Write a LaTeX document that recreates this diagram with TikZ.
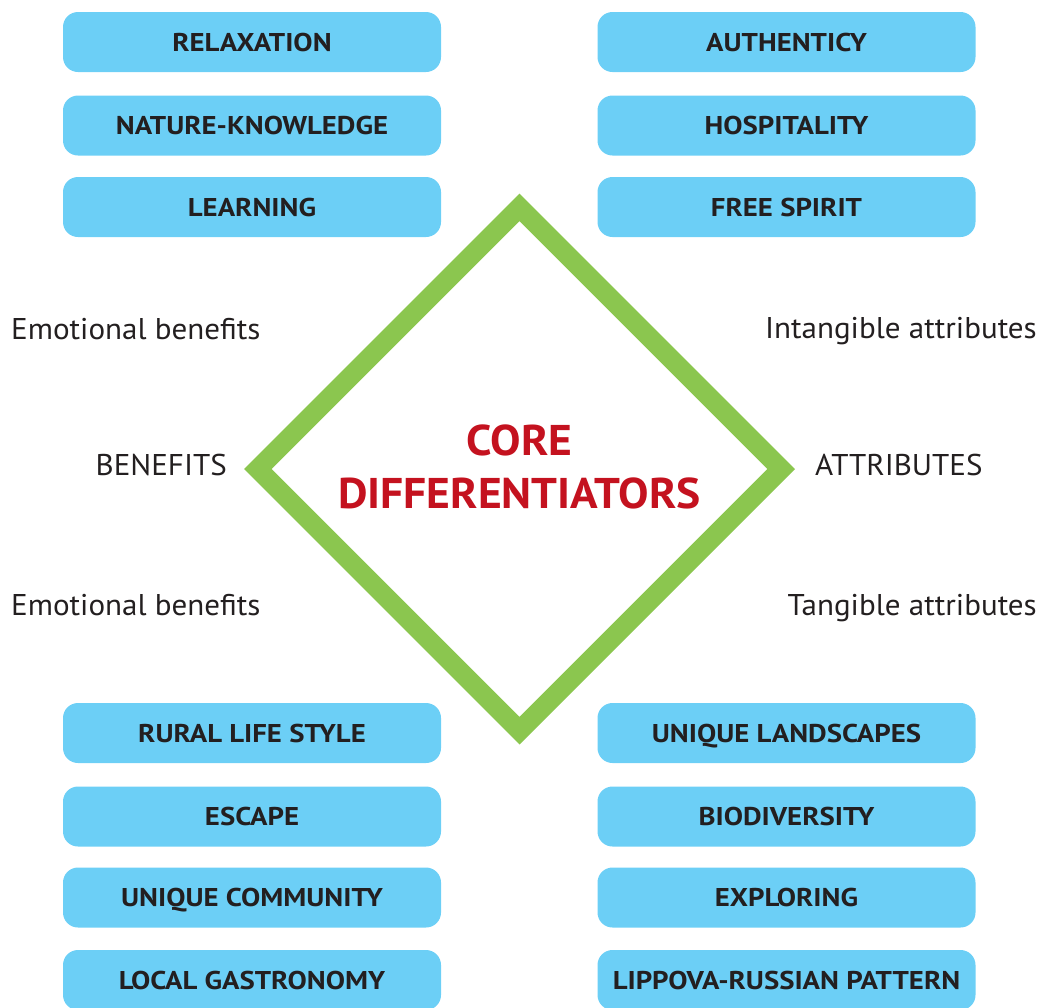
\documentclass[tikz,border=0pt]{standalone}
\usepackage{fontspec}
\setmainfont{PT Sans}
\newfontfamily\boxfont[FakeStretch=1.12]{PT Sans}
\newfontfamily\labfont[FakeStretch=1.035]{PT Sans}
\newfontfamily\corefont[FakeStretch=1.06]{PT Sans}
\usetikzlibrary{calc}
\definecolor{boxblue}{HTML}{6CCFF6}
\definecolor{dgreen}{HTML}{8BC64F}
\definecolor{cred}{HTML}{C4121F}
\definecolor{ink}{HTML}{231F20}
\tikzset{
  item/.style={rectangle, rounded corners=15pt, fill=boxblue, minimum width=378pt, minimum height=60pt, inner sep=0pt, text height=18pt, text depth=0pt, text=ink, font=\boxfont\fontsize{25.7}{30}\selectfont\bfseries},
  lab/.style={inner sep=0pt, text=ink, font=\labfont\fontsize{30}{35}\selectfont},
}
\begin{document}
\begin{tikzpicture}[x=1pt,y=-1pt]
\useasboundingbox (0,0) rectangle (1040,1007);
\clip (0,0) rectangle (1040,1007);
% left boxes
\node[item] (b1) at (252,42) {RELAXATION};
\node[item] (b2) at (252,125.5) {NATURE-KNOWLEDGE};
\node[item] (b3) at (252,207) {LEARNING};
\node[item] (b4) at (252,733) {RURAL LIFE STYLE};
\node[item] (b5) at (252,816.5) {ESCAPE};
\node[item] (b6) at (252,897.5) {UNIQUE COMMUNITY};
\node[item] (b7) at (252,980) {LOCAL GASTRONOMY};
% right boxes
\node[item] (a1) at (786.5,42) {AUTHENTICY};
\node[item] (a2) at (786.5,125.5) {HOSPITALITY};
\node[item] (a3) at (786.5,207) {FREE SPIRIT};
\node[item] (a4) at (786.5,733) {UNIQUE LANDSCAPES};
\node[item] (a5) at (786.5,816.5) {BIODIVERSITY};
\node[item] (a6) at (786.5,897.5) {EXPLORING};
\node[item] (a7) at (786.5,980) {LIPPOVA-RUSSIAN PATTERN};
% diamond
\coordinate (dc) at (519.5,469);
\draw[dgreen, line width=19.5pt, miter limit=10] ($(dc)+(0,-261.7)$) -- ($(dc)+(261.7,0)$) -- ($(dc)+(0,261.7)$) -- ($(dc)+(-261.7,0)$) -- cycle;
\node[align=center, text=cred, font=\corefont\fontsize{43}{53}\selectfont\bfseries, inner sep=0pt] (core) at (519.5,467) {CORE\\DIFFERENTIATORS};
% labels
\node[lab, anchor=base west] (l1) at (11,339) {Emotional benefits};
\node[lab, anchor=base east] (l2) at (227,475) {BENEFITS};
\node[lab, anchor=base west] (l3) at (11,615) {Emotional benefits};
\node[lab, anchor=base east] (r1) at (1037,338) {Intangible attributes};
\node[lab, anchor=base west] (r2) at (815,475) {ATTRIBUTES};
\node[lab, anchor=base east] (r3) at (1037,615) {Tangible attributes};
\end{tikzpicture}
\end{document}
